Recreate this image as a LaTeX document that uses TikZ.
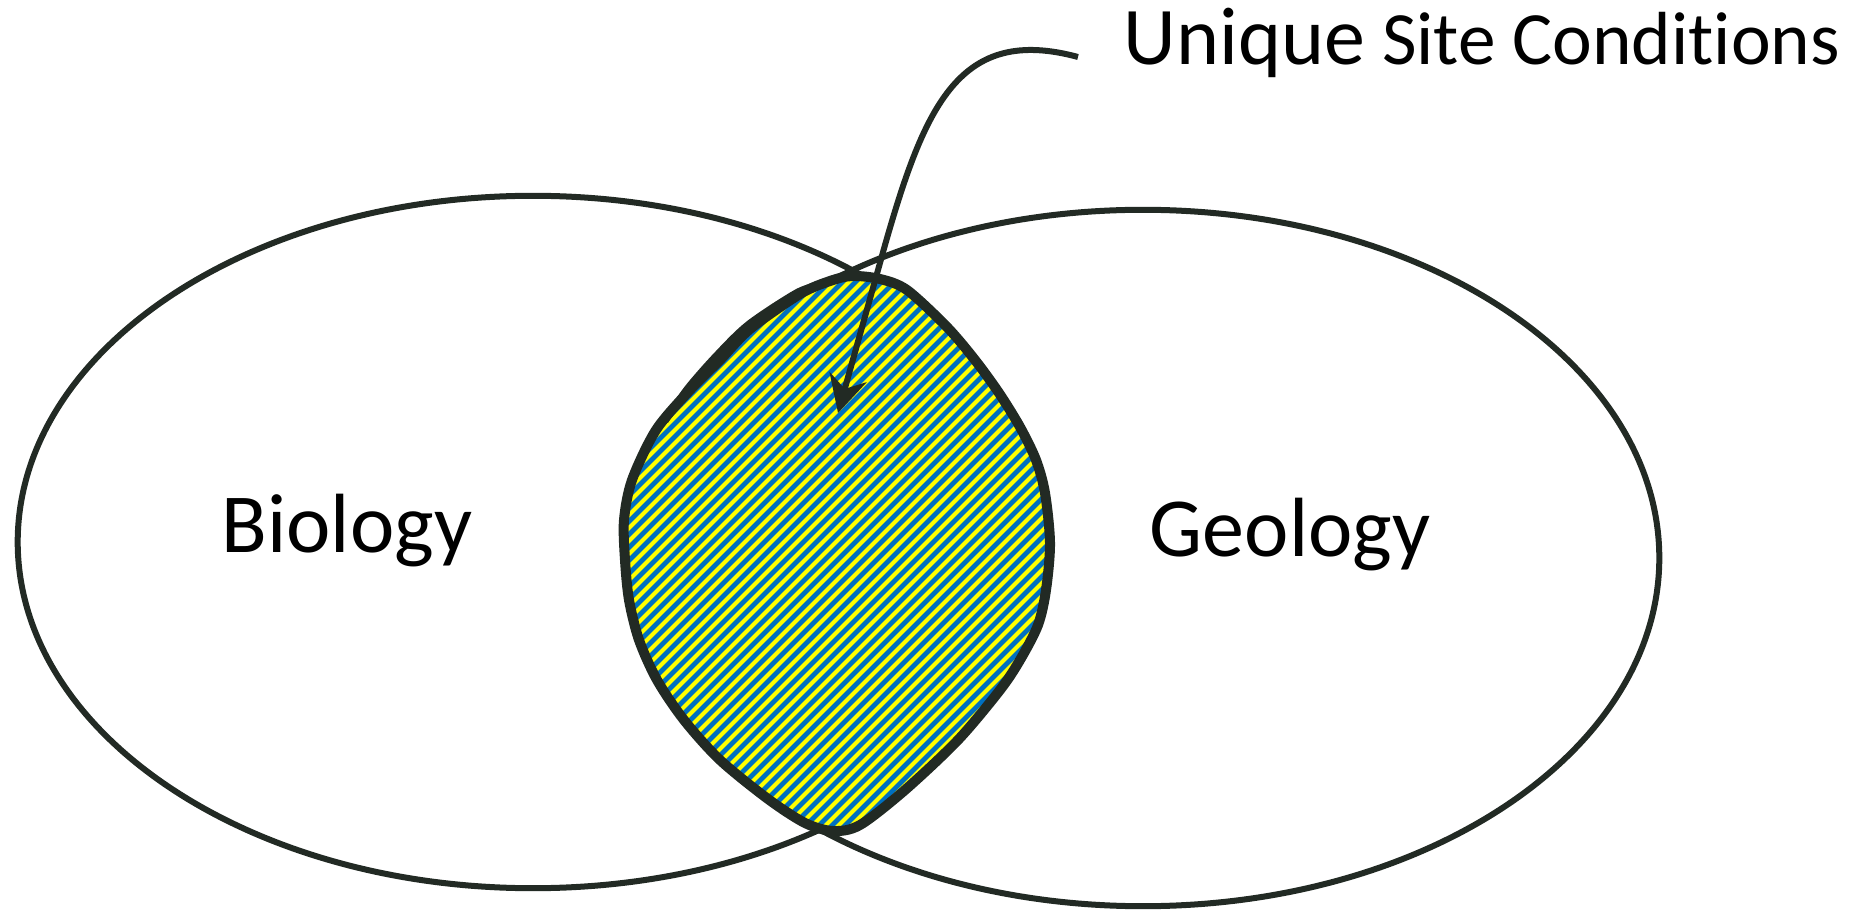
\documentclass[tikz,border=0pt]{standalone}
\usepackage{fontspec}
\setmainfont{Carlito}[Ligatures={NoCommon}]
\usetikzlibrary{positioning, arrows.meta}

\definecolor{ink}{RGB}{34,42,36}
\definecolor{hatchblue}{RGB}{0,112,192}
\definecolor{hatchyellow}{RGB}{255,255,0}

\begin{document}
\begin{tikzpicture}[x=0.01cm, y=-0.01cm,
  ring/.style={draw=ink, line width=0.06cm},
  word/.style={inner sep=0, anchor=base, text=black}]
\useasboundingbox (0,0) rectangle (1852,910);
% the two fields
\draw[ring] (533,542) ellipse [x radius=5.15cm, y radius=3.46cm];
\draw[ring] (1143,558) ellipse [x radius=5.16cm, y radius=3.48cm];
\node[word, font=\fontsize{23.9}{28}\selectfont] (bio) at (347,553) {Biology};
\node[word, font=\fontsize{23.9}{28}\selectfont] (geo) at (1290,557) {Geology};
% overlap
\path[save path=\overlap] plot[smooth cycle, tension=0.5] coordinates {
  (852,276) (880,279) (907,290) (947,327) (975,360) (999,393) (1020,427)
  (1036,460) (1045,493) (1050,543) (1046,590) (1038,625) (1020,660)
  (1000,690) (958,740) (905,790) (860,825) (833,831) (805,823) (768,799)
  (720,760) (684,720) (657,680) (639,640) (629,600) (625,560) (624,520)
  (632,480) (656,430) (690,390) (720,360) (750,329) (800,294) (830,281)};
\begin{scope}
\clip[use path=\overlap];
\fill[hatchblue] (600,250) rectangle (1080,860);
\foreach \s in {180,193,...,880}
  \draw[hatchyellow, line width=0.04cm] (\s,860) -- ++(650,-650);
\end{scope}
\draw[ink, line width=0.1cm, use path=\overlap];
\draw[ink, line width=0.07cm] plot[smooth] coordinates {(822,285) (798,292) (749,324) (717,355) (688,388) (665,421)};
% callout
\node[word, anchor=base west, font=\fontsize{21.4}{26}\selectfont] (label) at (1123,65)
  {{\fontsize{23.3}{28}\selectfont Unique} Site Conditions};
\coordinate (tip) at (838,413);
\draw[ink, line width=0.06cm, -{Stealth[length=0.37cm, width=0.38cm, inset=0.12cm]}]
  ([xshift=-0.45cm, yshift=0.08cm]label.base west) .. controls (960,25) and (925,105) .. (885,245) -- (tip);
\end{tikzpicture}
\end{document}
